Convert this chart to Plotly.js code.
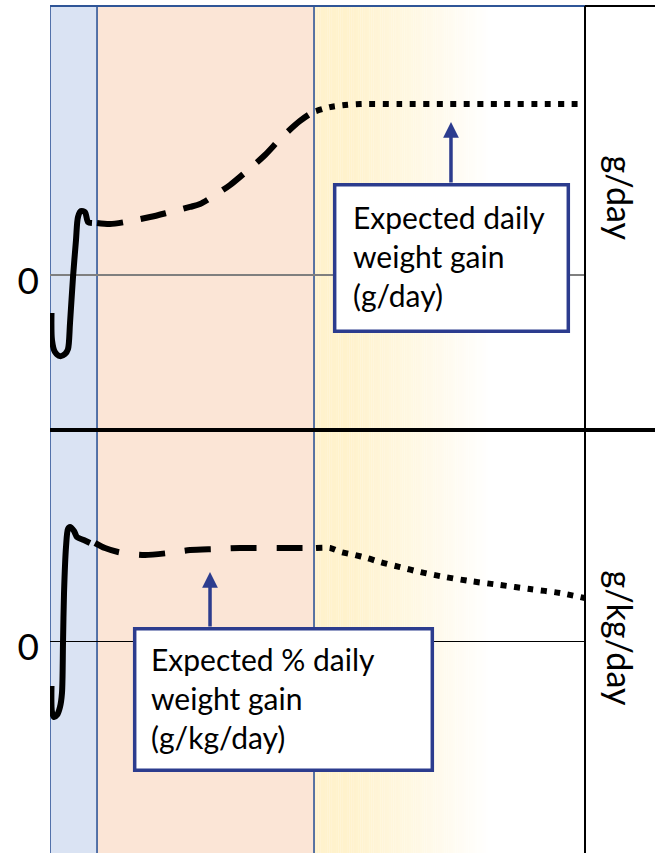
<!DOCTYPE html>
<html>
<head>
<meta charset="utf-8">
<script src="https://cdn.plot.ly/plotly-3.0.1.min.js"></script>
<style>html,body{margin:0;padding:0;background:#fff;}#chart{width:655px;height:853px;}</style>
</head>
<body>
<div id="chart"></div>
<script>
// ---- phase boundaries (x, arbitrary time units) ----
const phaseEdges = [0, 8.79, 49.35, 100];

// ---- top panel: daily weight gain (g/day, relative units) ----
const topSolidX = [0.28, 0.37, 0.93, 1.87, 2.80, 3.36, 3.74, 4.30, 4.86, 5.23, 5.79, 6.54, 7.10, 7.85];
const topSolidY = [-22.2, -38.0, -45.0, -47.4, -46.2, -43.3, -28.1, -1.2, 20.5, 33.9, 37.4, 36.8, 31.0, 30.4];
const topDashX = [8.79, 11.21, 14.02, 18.69, 22.43, 26.17, 28.04, 30.28, 33.64, 37.01, 40.19, 43.36, 46.73, 48.60, 49.72];
const topDashY = [30.4, 29.8, 31.0, 33.9, 36.8, 39.8, 41.5, 45.6, 52.6, 61.4, 70.2, 80.7, 90.1, 94.2, 95.9];
const topDotX = [49.72, 52.34, 55.14, 57.94, 65.42, 74.77, 84.11, 93.46, 100];
const topDotY = [95.9, 98.2, 99.4, 100, 100, 100, 100, 100, 100];

// ---- bottom panel: % daily weight gain (g/kg/day, relative units) ----
const botSolidX = [0.28, 0.37, 0.75, 1.31, 1.87, 2.24, 2.43, 2.62, 2.99, 3.36, 3.74, 4.49, 5.05, 6.31, 7.48];
const botSolidY = [-47.9, -75.5, -80.9, -78.7, -70.2, -55.3, -2.1, 51.1, 100, 119.1, 121.3, 117.0, 110.6, 107.4, 104.3];
const botDashX = [8.41, 10.28, 12.71, 14.95, 17.76, 22.06, 26.17, 30.84, 35.51, 42.99, 49.72];
const botDashY = [104.3, 98.9, 94.7, 92.6, 91.5, 93.6, 96.8, 97.9, 98.9, 98.9, 98.9];
const botDotX = [49.72, 52.34, 54.39, 57.01, 59.25, 61.68, 65.42, 69.16, 73.83, 78.50, 84.11, 89.72, 95.33, 100];
const botDotY = [98.9, 98.9, 94.7, 91.5, 88.3, 84.0, 78.7, 73.4, 68.1, 63.8, 59.6, 55.3, 51.1, 45.7];

// ---- labels ----
const yTickVals = [0];
const yTickText = ['0'];
const topUnit = 'g/day';
const botUnit = 'g/kg/day';
const topNote = 'Expected daily<br>weight gain<br>(g/day)';
const botNote = 'Expected % daily<br>weight gain<br>(g/kg/day)';
const topArrowAt = [74.95, 89.5];
const botArrowAt = [29.91, 73.4];

const FONT = 'Lato, "Open Sans", sans-serif';
const NAVY = '#2C3C8E';
const BORDER = '#2F5597';

function lineTrace(x, y, xa, ya, dash, shape) {
  return {x: x, y: y, xaxis: xa, yaxis: ya, type: 'scatter', mode: 'lines',
    line: {color: '#000', width: 6, dash: dash, shape: shape || 'linear', smoothing: 0.8},
    hoverinfo: 'skip', showlegend: false};
}

const traces = [
  lineTrace(topSolidX, topSolidY, 'x', 'y', 'solid', 'spline'),
  lineTrace(topDashX, topDashY, 'x', 'y', '26px,18px', 'spline'),
  lineTrace(topDotX, topDotY, 'x', 'y', '6px,7.5px', 'spline'),
  lineTrace(botSolidX, botSolidY, 'x2', 'y2', 'solid', 'spline'),
  lineTrace(botDashX, botDashY, 'x2', 'y2', '26px,20px', 'spline'),
  lineTrace(botDotX, botDotY, 'x2', 'y2', '6px,7.5px', 'spline')
];

const shapes = [];
// phase bands
shapes.push({type: 'rect', xref: 'x', yref: 'paper', x0: phaseEdges[0], x1: phaseEdges[1], y0: 0, y1: 1,
  fillcolor: '#DAE3F3', line: {width: 0}, layer: 'below'});
shapes.push({type: 'rect', xref: 'x', yref: 'paper', x0: phaseEdges[1], x1: phaseEdges[2], y0: 0, y1: 1,
  fillcolor: '#FBE5D6', line: {width: 0}, layer: 'below'});
// gradient band (yellow to white)
(function () {
  const start = phaseEdges[2], solidEnd = start + 6.7, fadeEnd = start + 33, n = 80;
  const step = (fadeEnd - start) / n;
  for (let i = 0; i < n; i++) {
    const a = start + i * step, mid = a + step / 2;
    let t = mid <= solidEnd ? 0 : (mid - solidEnd) / (fadeEnd - solidEnd);
    t = Math.min(1, t);
    const g = Math.round(242 + 13 * t), b = Math.round(204 + 51 * t);
    shapes.push({type: 'rect', xref: 'x', yref: 'paper', x0: a, x1: a + step * 1.05, y0: 0, y1: 1,
      fillcolor: 'rgb(255,' + g + ',' + b + ')', line: {width: 0}, layer: 'below'});
  }
})();
// phase border lines
for (let i = 0; i < 3; i++) {
  shapes.push({type: 'line', xref: 'x', yref: 'paper', x0: phaseEdges[i], x1: phaseEdges[i], y0: 0, y1: 1,
    line: {color: BORDER, width: 1.6}, layer: 'below'});
}
// top border (blue)
shapes.push({type: 'line', xref: 'paper', yref: 'paper', x0: 0, x1: 1, y0: 1, y1: 1,
  line: {color: BORDER, width: 2.2}, layer: 'above'});
// right frame (black)
shapes.push({type: 'line', xref: 'paper', yref: 'paper', x0: 1, x1: 1, y0: 0, y1: 1,
  line: {color: '#000', width: 2}, layer: 'above'});
shapes.push({type: 'line', xref: 'paper', yref: 'paper', x0: 1, x1: 1.131, y0: 1, y1: 1,
  line: {color: '#000', width: 2.2}, layer: 'above'});
// divider between panels
shapes.push({type: 'line', xref: 'paper', yref: 'paper', x0: 0, x1: 1.131, y0: 0.4994, y1: 0.4994,
  line: {color: '#000', width: 4}, layer: 'above'});
// note boxes
shapes.push({type: 'rect', xref: 'paper', yref: 'paper', x0: 0.5321, x1: 0.9688, y0: 0.6160, y1: 0.7890,
  fillcolor: '#fff', line: {color: NAVY, width: 3.5}, layer: 'above'});
shapes.push({type: 'rect', xref: 'paper', yref: 'paper', x0: 0.1583, x1: 0.7146, y0: 0.0976, y1: 0.2648,
  fillcolor: '#fff', line: {color: NAVY, width: 3.5}, layer: 'above'});

const annotations = [
  {text: topNote, xref: 'paper', yref: 'paper', x: 0.5626, y: 0.7045, xanchor: 'left', yanchor: 'middle',
   align: 'left', showarrow: false, font: {family: FONT, size: 30, color: '#000'}},
  {text: botNote, xref: 'paper', yref: 'paper', x: 0.1850, y: 0.1832, xanchor: 'left', yanchor: 'middle',
   align: 'left', showarrow: false, font: {family: FONT, size: 30, color: '#000'}},
  {text: '', xref: 'x', yref: 'y', x: topArrowAt[0], y: topArrowAt[1], ax: 0, ay: 62, showarrow: true,
   arrowhead: 2, arrowsize: 0.9, arrowwidth: 3.5, arrowcolor: NAVY, standoff: 0},
  {text: '', xref: 'x2', yref: 'y2', x: botArrowAt[0], y: botArrowAt[1], ax: 0, ay: 56, showarrow: true,
   arrowhead: 2, arrowsize: 0.9, arrowwidth: 3.5, arrowcolor: NAVY, standoff: 0},
  {text: topUnit, xref: 'paper', yref: 'paper', x: 1.0654, y: 0.7727, textangle: 90, showarrow: false,
   xanchor: 'center', yanchor: 'middle', font: {family: FONT, size: 34, color: '#000'}},
  {text: botUnit, xref: 'paper', yref: 'paper', x: 1.0654, y: 0.2532, textangle: 90, showarrow: false,
   xanchor: 'center', yanchor: 'middle', font: {family: FONT, size: 34, color: '#000'}}
];

const xCommon = {range: [0, 100], domain: [0, 1], showgrid: false, zeroline: false, showline: false,
  showticklabels: false, ticks: '', fixedrange: true};
const yCommon = {showgrid: false, zeroline: true, showline: false, tickvals: yTickVals, ticktext: yTickText,
  ticks: '', ticklabelstandoff: 10, ticklabelshift: 6, tickfont: {family: FONT, size: 37, color: '#000'}, fixedrange: true};

const layout = {
  width: 655, height: 853,
  margin: {l: 50, r: 70, t: 6, b: 0, pad: 0},
  paper_bgcolor: '#fff', plot_bgcolor: '#fff',
  showlegend: false,
  xaxis: Object.assign({}, xCommon, {anchor: 'y'}),
  xaxis2: Object.assign({}, xCommon, {anchor: 'y2'}),
  yaxis: Object.assign({}, yCommon, {domain: [0.4994, 1], range: [-90.6, 157.3], anchor: 'x',
    zerolinecolor: '#7F7F7F', zerolinewidth: 1.5}),
  yaxis2: Object.assign({}, yCommon, {domain: [0, 0.4994], range: [-225.5, 224.5], anchor: 'x2',
    zerolinecolor: '#000', zerolinewidth: 1}),
  shapes: shapes,
  annotations: annotations
};

Plotly.newPlot('chart', traces, layout, {displayModeBar: false, staticPlot: true});
</script>
</body>
</html>
